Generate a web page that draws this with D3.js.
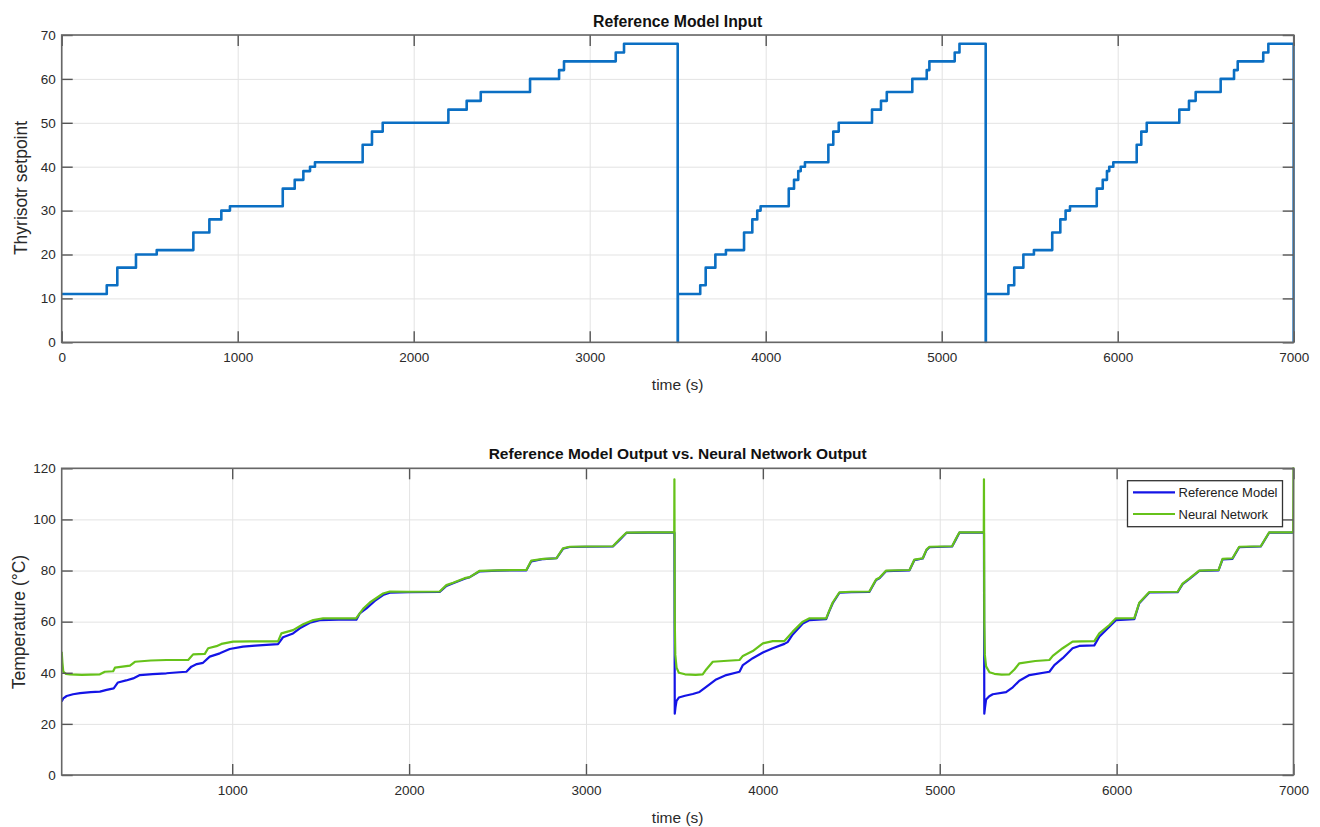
<!DOCTYPE html>
<html>
<head>
<meta charset="utf-8">
<script src="https://cdn.jsdelivr.net/npm/d3@7"></script>
<style>
  html, body { margin: 0; padding: 0; background: #fff; }
  svg { display: block; }
  text { font-family: "Liberation Sans", Arial, Helvetica, sans-serif; }
</style>
</head>
<body>
<svg id="chart" width="1320" height="827"></svg>
<script>
// ---- Thyristor setpoint (step changes: [time s, setpoint]) ----
const setpointSteps = [
  [0, 11], [256, 13], [316, 17], [422, 20], [540, 21], [748, 25], [839, 28], [907, 30], [956, 31],
  [1256, 35], [1324, 37], [1373, 39], [1411, 40], [1439, 41], [1710, 45], [1763, 48], [1824, 50],
  [2197, 53], [2301, 55], [2381, 57], [2661, 60], [2826, 62], [2854, 64], [3148, 66], [3195, 68],
  [3500, 0], [3501, 11],
  [3628, 13], [3659, 17], [3714, 20], [3774, 21], [3877, 25], [3924, 28], [3952, 30], [3971, 31],
  [4131, 35], [4161, 37], [4185, 39], [4199, 40], [4223, 41], [4356, 45], [4384, 48], [4415, 50],
  [4604, 53], [4655, 55], [4688, 57], [4833, 60], [4915, 62], [4930, 64], [5074, 66], [5101, 68],
  [5250, 0], [5251, 11],
  [5379, 13], [5412, 17], [5464, 20], [5524, 21], [5628, 25], [5674, 28], [5704, 30], [5729, 31],
  [5881, 35], [5915, 37], [5939, 39], [5952, 40], [5975, 41], [6108, 45], [6134, 48], [6165, 50],
  [6350, 53], [6405, 55], [6443, 57], [6585, 60], [6661, 62], [6682, 64], [6827, 66], [6856, 68],
  [6999, 68], [7000, 0]
];

// ---- Reference model output temperature [time s, °C] ----
const referenceModel = [
  [36, 28.7], [45, 30.0], [64, 30.9], [100, 31.6], [140, 32.0], [200, 32.4], [252, 32.6], [290, 33.3],
  [330, 33.9], [354, 36.2], [400, 37.0], [440, 37.8], [478, 39.1], [550, 39.5], [628, 39.8], [700, 40.2],
  [741, 40.4], [769, 42.4], [800, 43.4], [835, 43.9], [873, 46.3], [930, 47.6], [986, 49.3], [1061, 50.2],
  [1130, 50.6], [1193, 50.9], [1259, 51.2], [1287, 53.9], [1344, 55.4], [1382, 57.4], [1439, 59.6],
  [1495, 60.6], [1600, 60.8], [1702, 60.8], [1721, 63.2], [1759, 65.2], [1806, 68.1], [1853, 70.4],
  [1891, 71.3], [2000, 71.5], [2173, 71.6], [2211, 74.0], [2249, 75.0], [2314, 76.8], [2343, 77.4],
  [2399, 79.7], [2500, 80.0], [2663, 80.1], [2691, 83.6], [2760, 84.5], [2833, 84.8], [2870, 88.5],
  [2908, 89.2], [3000, 89.3], [3152, 89.4], [3190, 92.0], [3228, 94.7], [3350, 94.8], [3500, 94.8],
  [3502, 24.0], [3506, 26.5], [3512, 29.0], [3525, 30.3], [3560, 31.0], [3604, 31.7], [3642, 32.5],
  [3680, 34.5], [3736, 37.4], [3793, 39.1], [3868, 40.4], [3887, 43.0], [3943, 45.7], [4000, 47.9],
  [4056, 49.6], [4122, 51.3], [4140, 52.0], [4169, 55.0], [4226, 59.3], [4264, 60.6], [4358, 61.0],
  [4375, 64.0], [4395, 67.2], [4433, 71.3], [4500, 71.5], [4602, 71.6], [4640, 76.3], [4659, 77.0],
  [4697, 79.8], [4829, 80.1], [4857, 84.1], [4904, 84.7], [4925, 88.0], [4942, 89.1], [5070, 89.4],
  [5090, 92.0], [5111, 94.8], [5250, 94.8],
  [5252, 24.0], [5256, 26.5], [5262, 29.5], [5280, 30.8], [5300, 31.6], [5375, 32.4], [5413, 34.3],
  [5450, 36.9], [5507, 39.1], [5620, 40.4], [5648, 43.0], [5695, 45.7], [5751, 49.6], [5789, 50.5],
  [5874, 50.7], [5902, 54.1], [5959, 58.0], [5996, 60.6], [6100, 61.0], [6128, 67.2], [6185, 71.4],
  [6345, 71.5], [6373, 74.7], [6410, 76.6], [6467, 79.9], [6576, 80.1], [6599, 84.4], [6655, 84.6],
  [6693, 89.1], [6815, 89.4], [6862, 94.8], [7000, 94.8]
];

// ---- Neural network output temperature [time s, °C] ----
const neuralNetwork = [
  [36, 48.2], [40, 44.0], [45, 40.4], [60, 39.6], [83, 39.4], [150, 39.2], [252, 39.4], [280, 40.4],
  [327, 40.6], [337, 42.0], [422, 42.8], [450, 44.3], [540, 44.8], [628, 45.0], [751, 45.0], [779, 47.2],
  [845, 47.4], [864, 49.6], [911, 50.4], [939, 51.3], [1005, 52.2], [1100, 52.3], [1259, 52.3],
  [1278, 55.4], [1344, 56.7], [1401, 59.0], [1458, 60.6], [1514, 61.3], [1600, 61.3], [1700, 61.3],
  [1740, 65.0], [1778, 67.5], [1853, 71.0], [1891, 71.8], [2000, 71.7], [2173, 71.8], [2211, 74.3],
  [2249, 75.2], [2314, 77.0], [2343, 77.4], [2399, 79.9], [2500, 80.1], [2663, 80.2], [2691, 83.9],
  [2760, 84.6], [2833, 84.8], [2870, 88.7], [2908, 89.3], [3000, 89.4], [3152, 89.5], [3190, 92.2],
  [3228, 94.8], [3350, 94.9], [3499, 94.9], [3500, 115.7], [3502, 60.0], [3505, 47.0], [3512, 42.0],
  [3525, 40.0], [3560, 39.4], [3620, 39.2], [3660, 39.4], [3680, 41.3], [3717, 44.3], [3800, 44.7],
  [3868, 45.0], [3887, 46.6], [3943, 48.5], [4000, 51.5], [4056, 52.4], [4122, 52.4], [4169, 56.1],
  [4226, 60.0], [4264, 61.3], [4358, 61.3], [4375, 64.2], [4395, 67.5], [4433, 71.5], [4500, 71.7],
  [4602, 71.8], [4640, 76.5], [4659, 77.2], [4697, 80.0], [4829, 80.2], [4857, 84.3], [4904, 84.8],
  [4925, 88.2], [4942, 89.3], [5070, 89.5], [5090, 92.2], [5111, 94.9], [5249, 94.9], [5250, 115.7],
  [5252, 60.0], [5255, 47.0], [5262, 42.5], [5281, 40.2], [5309, 39.6], [5350, 39.3], [5394, 39.4],
  [5422, 41.3], [5450, 43.7], [5540, 44.6], [5620, 45.0], [5639, 46.6], [5695, 49.6], [5751, 52.2],
  [5800, 52.3], [5874, 52.4], [5902, 55.4], [5959, 58.7], [5996, 61.3], [6100, 61.4], [6128, 67.4],
  [6185, 71.6], [6345, 71.7], [6373, 74.9], [6410, 76.8], [6467, 80.0], [6576, 80.2], [6599, 84.6],
  [6655, 84.8], [6693, 89.3], [6815, 89.5], [6862, 94.9], [6998, 94.9], [7000, 121]
];

// ---- Axis ticks and labels ----
const topXTicks = [0, 1000, 2000, 3000, 4000, 5000, 6000, 7000];
const topYTicks = [0, 10, 20, 30, 40, 50, 60, 70];
const bottomXTicks = [1000, 2000, 3000, 4000, 5000, 6000, 7000];
const bottomYTicks = [0, 20, 40, 60, 80, 100, 120];
const seriesNames = ["Reference Model", "Neural Network"];

const colors = {
  setpoint: "#0b6fc3",
  reference: "#1414e6",
  network: "#66c21a",
  frame: "#676767",
  grid: "#e3e3e3",
  text: "#2a2a2a"
};

const svg = d3.select("#chart");

function drawPanel(opts) {
  const { left, right, top, bottom, xDomain, yDomain, xTicks, yTicks } = opts;
  const x = d3.scaleLinear().domain(xDomain).range([left, right]);
  const y = d3.scaleLinear().domain(yDomain).range([bottom, top]);
  const g = svg.append("g");
  const h = bottom - top, w = right - left;

  // grid
  g.append("g").attr("transform", `translate(0,${bottom})`)
    .call(d3.axisBottom(x).tickValues(xTicks).tickSize(-h).tickFormat(""))
    .call(a => a.select(".domain").remove())
    .call(a => a.selectAll("line").attr("stroke", colors.grid).attr("stroke-width", 1));
  g.append("g").attr("transform", `translate(${left},0)`)
    .call(d3.axisLeft(y).tickValues(yTicks).tickSize(-w).tickFormat(""))
    .call(a => a.select(".domain").remove())
    .call(a => a.selectAll("line").attr("stroke", colors.grid).attr("stroke-width", 1));

  const clipId = "clip" + Math.round(top);
  svg.append("clipPath").attr("id", clipId)
    .append("rect").attr("x", left).attr("y", top - 1).attr("width", w + 1).attr("height", h + 2);
  const plot = g.append("g").attr("clip-path", `url(#${clipId})`);

  // tick marks inside on all four sides, labels on bottom/left
  const tickStyle = a => {
    a.select(".domain").remove();
    a.selectAll("line").attr("stroke", "#555").attr("stroke-width", 1.4);
    a.selectAll("text").attr("fill", colors.text).style("font-size", "13.5px")
      .style("font-family", '"Liberation Sans", Arial, sans-serif');
  };
  const axes = g.append("g");
  axes.append("g").attr("transform", `translate(0,${bottom})`)
    .call(d3.axisBottom(x).tickValues(xTicks).tickSize(-11).tickPadding(10).tickFormat(d3.format("d")))
    .call(tickStyle);
  axes.append("g").attr("transform", `translate(0,${top})`)
    .call(d3.axisTop(x).tickValues(xTicks).tickSize(-11).tickFormat(""))
    .call(tickStyle);
  axes.append("g").attr("transform", `translate(${left},0)`)
    .call(d3.axisLeft(y).tickValues(yTicks).tickSize(-11).tickPadding(6).tickFormat(d3.format("d")))
    .call(tickStyle);
  axes.append("g").attr("transform", `translate(${right},0)`)
    .call(d3.axisRight(y).tickValues(yTicks).tickSize(-11).tickFormat(""))
    .call(tickStyle);
  axes.append("rect").attr("x", left).attr("y", top).attr("width", w).attr("height", h)
    .attr("fill", "none").attr("stroke", colors.frame).attr("stroke-width", 1.6);

  return { x, y, plot };
}

// ---------- Top panel: reference model input ----------
const topPanel = drawPanel({
  left: 61.7, right: 1293.7, top: 35, bottom: 342.3,
  xDomain: [0, 7000], yDomain: [0, 70], xTicks: topXTicks, yTicks: topYTicks
});
topPanel.plot.append("path")
  .datum(setpointSteps)
  .attr("fill", "none")
  .attr("stroke", colors.setpoint)
  .attr("stroke-width", 2.6)
  .attr("stroke-linejoin", "round")
  .attr("d", d3.line().x(d => topPanel.x(d[0])).y(d => topPanel.y(d[1])).curve(d3.curveStepAfter));

svg.append("text").attr("x", 677.7).attr("y", 26.5).attr("text-anchor", "middle")
  .attr("fill", "#111").style("font-size", "15.8px").style("font-weight", "bold")
  .text("Reference Model Input");
svg.append("text").attr("x", 677.7).attr("y", 390).attr("text-anchor", "middle")
  .attr("fill", colors.text).style("font-size", "15.5px").text("time (s)");
svg.append("text").attr("transform", "translate(27,188) rotate(-90)").attr("text-anchor", "middle")
  .attr("fill", colors.text).style("font-size", "17.5px").text("Thyrisotr setpoint");

// ---------- Bottom panel: reference model vs neural network ----------
const botPanel = drawPanel({
  left: 61.7, right: 1293.5, top: 468.3, bottom: 775,
  xDomain: [36, 7000], yDomain: [0, 120], xTicks: bottomXTicks, yTicks: bottomYTicks
});
const tempLine = d3.line().x(d => botPanel.x(d[0])).y(d => botPanel.y(d[1]));
botPanel.plot.append("path").datum(referenceModel)
  .attr("fill", "none").attr("stroke", colors.reference).attr("stroke-width", 2.2)
  .attr("stroke-linejoin", "round").attr("d", tempLine);
botPanel.plot.append("path").datum(neuralNetwork)
  .attr("fill", "none").attr("stroke", colors.network).attr("stroke-width", 2.2)
  .attr("stroke-linejoin", "round").attr("d", tempLine);

svg.append("text").attr("x", 677.7).attr("y", 459).attr("text-anchor", "middle")
  .attr("fill", "#111").style("font-size", "15.5px").style("font-weight", "bold")
  .text("Reference Model Output vs. Neural Network Output");
svg.append("text").attr("x", 677.7).attr("y", 823).attr("text-anchor", "middle")
  .attr("fill", colors.text).style("font-size", "15.5px").text("time (s)");
svg.append("text").attr("transform", "translate(25,622) rotate(-90)").attr("text-anchor", "middle")
  .attr("fill", colors.text).style("font-size", "17.5px").text("Temperature (°C)");

// legend
const legend = svg.append("g").attr("transform", "translate(1127.5,480.7)");
legend.append("rect").attr("width", 155).attr("height", 46)
  .attr("fill", "#fff").attr("stroke", "#333").attr("stroke-width", 1.3);
const legendColors = [colors.reference, colors.network];
seriesNames.forEach((name, i) => {
  const yy = 11.6 + i * 21.7;
  legend.append("line").attr("x1", 5.5).attr("x2", 47.5).attr("y1", yy).attr("y2", yy)
    .attr("stroke", legendColors[i]).attr("stroke-width", 2.2);
  legend.append("text").attr("x", 51).attr("y", yy + 4.6)
    .attr("fill", "#222").style("font-size", "13px").text(name);
});
</script>
</body>
</html>
